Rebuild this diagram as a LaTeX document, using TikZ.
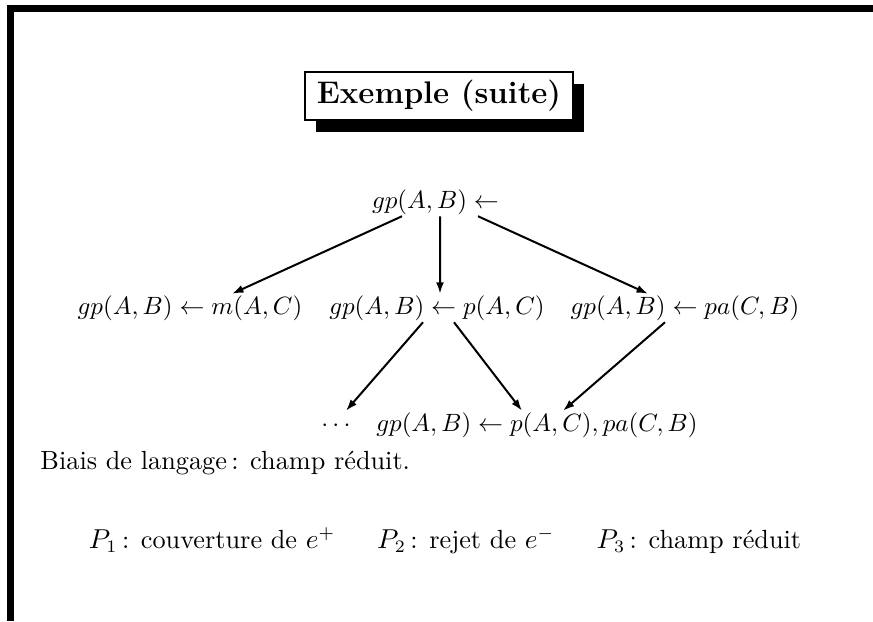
\documentclass[tikz,border=0pt]{standalone}
\usepackage{amsmath,amssymb}
\usepackage{tikz}
\usetikzlibrary{arrows.meta,shadows}

\begin{document}
\begin{tikzpicture}[x=0.4pt,y=-0.4pt,
  term/.style={inner sep=0.5pt},
  prose/.style={inner sep=0pt,font=\fontsize{10.5}{12.5}\selectfont},
  arr/.style={-{Latex[length=4.6pt,width=3.2pt]},line width=0.8pt},
  titlebox/.style={draw,line width=0.8pt,fill=white,
    font=\fontsize{12.5}{15}\selectfont\bfseries,
    minimum width=107pt,minimum height=19pt,
    drop shadow={shadow xshift=4.4pt,shadow yshift=-4.8pt,fill=black,opacity=1}}]
  \useasboundingbox (0,0) rectangle (873,621);
  \fill (7,5) rectangle (14,621);
  \fill (7,5) rectangle (873,12);
  \node[titlebox] (title) at (439,96) {Exemple (suite)};
  % the tree
  \node[term] (top) at (435.5,202) {$gp(A,B)\leftarrow$};
  \node[term] (m1) at (190,308) {$gp(A,B)\leftarrow m(A,C)$};
  \node[term] (m2) at (437,308) {$gp(A,B)\leftarrow p(A,C)$};
  \node[term] (m3) at (685,308) {$gp(A,B)\leftarrow pa(C,B)$};
  \node[term] (dots) at (336,425) {$\vphantom{()}\cdots$};
  \node[term] (both) at (537,425) {$gp(A,B)\leftarrow p(A,C),pa(C,B)$};
  \draw[arr] ([xshift=-13.4pt]top.south) -- ([xshift=16.8pt]m1.north);
  \draw[arr] ([xshift=1.8pt]top.south) -- ([xshift=1.2pt]m2.north);
  \draw[arr] ([xshift=17pt]top.south) -- ([xshift=-14.8pt]m3.north);
  \draw[arr] ([xshift=-5.6pt]m2.south) -- ([xshift=4pt]dots.north);
  \draw[arr] ([xshift=6.8pt]m2.south) -- ([xshift=-6pt]both.north);
  \draw[arr] ([xshift=-8pt]m3.south) -- ([xshift=10.4pt]both.north);
  % text below
  \node[prose,anchor=west] (bias) at (40,463) {Biais de langage\,: champ réduit.};
  \node[prose] (crit) at (445,541)
    {$P_1$\,: couverture de $e^+$\hspace{1.6em}$P_2$\,: rejet de $e^-$\hspace{1.6em}$P_3$\,: champ réduit};
\end{tikzpicture}
\end{document}
